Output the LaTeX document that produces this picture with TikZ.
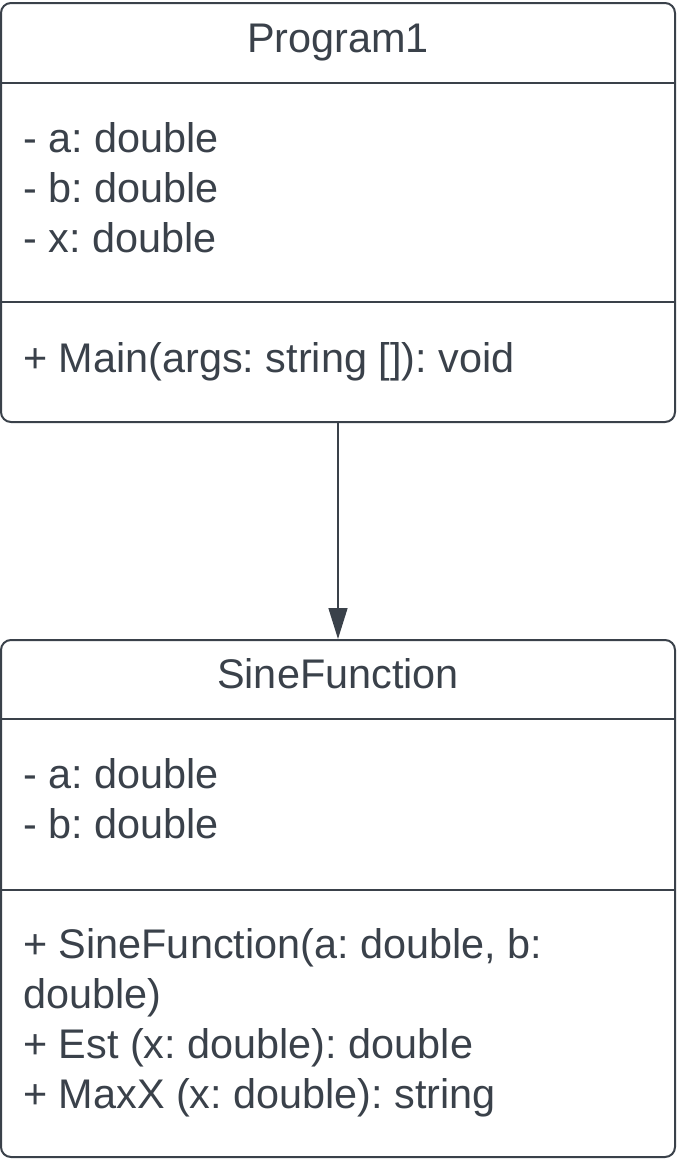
\documentclass[tikz,border=0pt]{standalone}
\usepackage{fontspec}
\setmainfont{Liberation Sans}
\usetikzlibrary{arrows.meta}
\definecolor{umlgrey}{HTML}{3A414A}
\frenchspacing

\begin{document}
\begin{tikzpicture}[x=1pt,y=-1pt,>={Triangle[width=19pt,length=31pt]},
    every node/.style={text=umlgrey, inner sep=0pt,
      font=\fontsize{41.4}{50}\selectfont},
    classbox/.style={rectangle, draw=umlgrey, line width=2pt,
      rounded corners=10pt, minimum width=674},
    divider/.style={draw=umlgrey, line width=2pt},
    member/.style={anchor=base west},
    title/.style={anchor=base}]

    \useasboundingbox (0,0) rectangle (677,1159);

    \node[classbox, minimum height=419] (program1) at (338,212.5) {};
    \node[title] (program1name) at (338,52) {Program1};
    \draw[divider] (1,83) -- (675,83);
    \node[member] (program1a) at (23,152) {- a: double};
    \node[member] (program1b) at (23,202) {- b: double};
    \node[member] (program1x) at (23,252) {- x: double};
    \draw[divider] (1,302) -- (675,302);
    \node[member] (program1main) at (23,372) {+ Main(args: string []): void};

    \node[classbox, minimum height=517] (sinefunction) at (338,898.5) {};
    \node[title] (sinefunctionname) at (338,688) {SineFunction};
    \draw[divider] (1,719) -- (675,719);
    \node[member] (sinefunctiona) at (23,788) {- a: double};
    \node[member] (sinefunctionb) at (23,838) {- b: double};
    \draw[divider] (1,890) -- (675,890);
    \node[member] (sinefunctionctor) at (23,958) {+ SineFunction(a: double, b:};
    \node[member] (sinefunctionctorb) at (23,1008) {double)};
    \node[member] (sinefunctionest) at (23,1058) {+ Est (x: double): double};
    \node[member] (sinefunctionmaxx) at (23,1108) {+ MaxX (x: double): string};

    \draw[->, draw=umlgrey, fill=umlgrey, line width=1.5pt]
      (program1.south) -- (sinefunction.north);

\end{tikzpicture}
\end{document}
